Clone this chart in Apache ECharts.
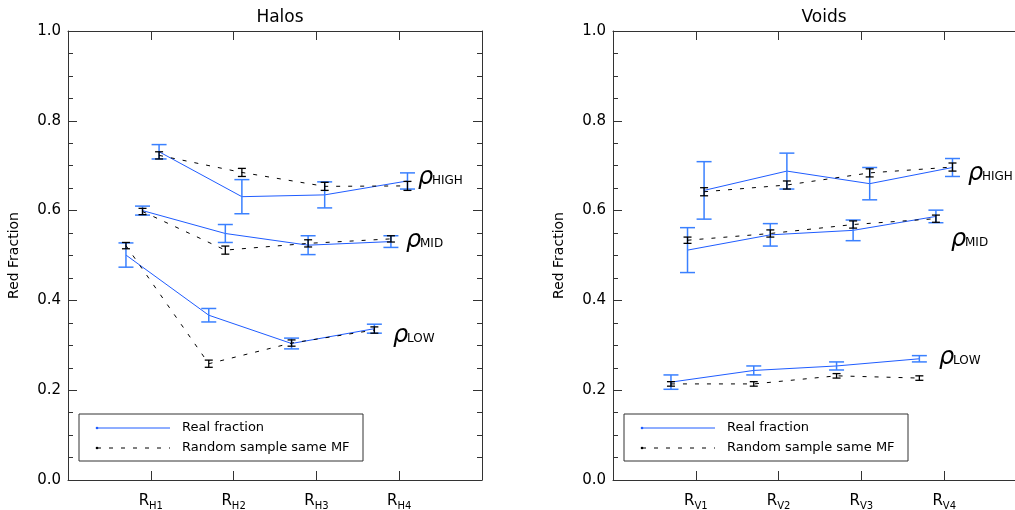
<!DOCTYPE html>
<html>
<head>
<meta charset="utf-8">
<script src="https://cdn.jsdelivr.net/npm/echarts@6/dist/echarts.min.js"></script>
<style>html,body{margin:0;padding:0;background:#fff}#c{width:1015px;height:510px}</style>
</head>
<body>
<div id="c"></div>
<script>
// ---- data ----
const haloTicks = ['H1', 'H2', 'H3', 'H4'];
const voidTicks = ['V1', 'V2', 'V3', 'V4'];

const haloRealLow = [0.501, 0.367, 0.304, 0.337];
const haloRealLowErr = [0.027, 0.015, 0.012, 0.010];
const haloRandLow = [0.522, 0.259, 0.305, 0.334];
const haloRandLowErr = [0.007, 0.008, 0.007, 0.007];
const haloRealMid = [0.600, 0.549, 0.523, 0.531];
const haloRealMidErr = [0.010, 0.020, 0.021, 0.013];
const haloRandMid = [0.598, 0.512, 0.527, 0.537];
const haloRandMidErr = [0.007, 0.009, 0.008, 0.007];
const haloRealHigh = [0.731, 0.631, 0.635, 0.666];
const haloRealHighErr = [0.016, 0.038, 0.029, 0.018];
const haloRandHigh = [0.723, 0.685, 0.654, 0.655];
const haloRandHighErr = [0.008, 0.009, 0.009, 0.010];

const voidRealLow = [0.218, 0.244, 0.254, 0.270];
const voidRealLowErr = [0.016, 0.010, 0.009, 0.007];
const voidRandLow = [0.214, 0.214, 0.232, 0.227];
const voidRandLowErr = [0.005, 0.005, 0.005, 0.005];
const voidRealMid = [0.512, 0.546, 0.556, 0.587];
const voidRealMidErr = [0.050, 0.025, 0.023, 0.014];
const voidRandMid = [0.534, 0.549, 0.569, 0.582];
const voidRandMidErr = [0.007, 0.008, 0.008, 0.008];
const voidRealHigh = [0.645, 0.688, 0.660, 0.696];
const voidRealHighErr = [0.064, 0.040, 0.036, 0.020];
const voidRandHigh = [0.642, 0.657, 0.684, 0.697];
const voidRandHighErr = [0.009, 0.009, 0.009, 0.009];

const panelTitles = ['Halos', 'Voids'];
const yAxisName = 'Red Fraction';
const legendReal = 'Real fraction';
const legendRand = 'Random sample same MF';
const densityLabels = ['LOW', 'MID', 'HIGH'];

// ---- styling / layout ----
const FONT = 'DejaVu Sans';
const BLUE_LINE = '#1f5cff';
const BLUE_ERR = '#3a80ff';
const AXIS = '#333';
const OFFSETS = [-0.3, -0.1, 0.1]; // low, mid, high horizontal shift

function pts(vals, off) { return vals.map((v, i) => [i + 1 + off, v]); }
function errs(vals, es, off) { return vals.map((v, i) => [i + 1 + off, v, es[i]]); }

function errSeries(data, xi, yi, color, halfCap, width) {
  return {
    type: 'custom', xAxisIndex: xi, yAxisIndex: yi, data: data,
    dimensions: ['x', 'v', 'e'], encode: { x: 0, y: 1 },
    silent: true, z: 4,
    renderItem: function (params, api) {
      const x = api.value(0), v = api.value(1), e = api.value(2);
      const t = api.coord([x, v + e]);
      const b = api.coord([x, v - e]);
      const st = { stroke: color, lineWidth: width };
      return {
        type: 'group', children: [
          { type: 'line', shape: { x1: t[0], y1: t[1], x2: b[0], y2: b[1] }, style: st },
          { type: 'line', shape: { x1: t[0] - halfCap, y1: t[1], x2: t[0] + halfCap, y2: t[1] }, style: st },
          { type: 'line', shape: { x1: b[0] - halfCap, y1: b[1], x2: b[0] + halfCap, y2: b[1] }, style: st }
        ]
      };
    }
  };
}

function panelSeries(xi, yi, real, realErr, rand, randErr) {
  const out = [];
  for (let k = 0; k < 3; k++) {
    const off = OFFSETS[k];
    out.push({ type: 'line', xAxisIndex: xi, yAxisIndex: yi, data: pts(real[k], off), symbol: 'none',
      lineStyle: { color: BLUE_LINE, width: 1 }, z: 3, silent: true });
    out.push(errSeries(errs(real[k], realErr[k], off), xi, yi, BLUE_ERR, 7.5, 1.5));
    out.push({ type: 'line', xAxisIndex: xi, yAxisIndex: yi, data: pts(rand[k], off), symbol: 'none',
      lineStyle: { color: '#000', width: 1, type: [4, 8] }, z: 5, silent: true });
    const es = errSeries(errs(rand[k], randErr[k], off), xi, yi, '#000', 4, 1.3);
    es.z = 6;
    out.push(es);
  }
  return out;
}

const grids = [
  { left: 68, top: 31, width: 414, height: 449, outerBoundsMode: 'none', containLabel: false },
  { left: 613, top: 31, width: 414, height: 449, outerBoundsMode: 'none', containLabel: false }
];

function xAxes(gi, ticks) {
  const base = { gridIndex: gi, type: 'value', min: 0, max: 5, interval: 1,
    splitLine: { show: false },
    axisLine: { show: true, onZero: false, lineStyle: { color: AXIS, width: 1 } },
    axisTick: { show: true, inside: true, length: 9, lineStyle: { color: AXIS } } };
  return [
    Object.assign({}, base, { position: 'bottom',
      axisLabel: { show: true, margin: 12, color: '#000',
        formatter: function (v) { const i = Math.round(v) - 1; return (i >= 0 && i < ticks.length) ? '{r|R}{s|' + ticks[i] + '}' : ''; },
        rich: { r: { fontSize: 15, fontFamily: FONT, color: '#000' },
                s: { fontSize: 10, fontFamily: FONT, color: '#000', padding: [9, 0, 0, 0] } } } }),
    Object.assign({}, base, { position: 'top', axisLabel: { show: false } })
  ];
}

function yAxes(gi) {
  const base = { gridIndex: gi, type: 'value', min: 0, max: 1, interval: 0.2,
    splitLine: { show: false },
    axisLine: { show: true, onZero: false, lineStyle: { color: AXIS, width: 1 } },
    axisTick: { show: true, inside: true, length: 9, lineStyle: { color: AXIS } },
    minorTick: { show: true, splitNumber: 4, length: 5, lineStyle: { color: AXIS } },
    minorSplitLine: { show: false } };
  return [
    Object.assign({}, base, { position: 'left',
      name: yAxisName, nameLocation: 'middle', nameGap: 47, nameRotate: 90,
      nameTextStyle: { fontSize: 14, fontFamily: FONT, color: '#000' },
      axisLabel: { show: true, margin: 7, fontSize: 15, fontFamily: FONT, color: '#000',
        formatter: function (v) { return v.toFixed(1); } } }),
    Object.assign({}, base, { position: 'right', axisLabel: { show: false } })
  ];
}

function rhoLabel(x, y, sub) {
  return { type: 'group', children: [
    { type: 'text', x: x, y: y, style: { text: 'ρ', font: 'italic 24px "DejaVu Sans"', fill: '#000',
      textAlign: 'left', textVerticalAlign: 'middle' } },
    { type: 'text', x: x + 14, y: y + 3, style: { text: sub, font: '12px "DejaVu Sans"', fill: '#000',
      textAlign: 'left', textVerticalAlign: 'middle' } }
  ] };
}

function legendBox(x0, y0) {
  const w = 284, h = 47;
  return { type: 'group', children: [
    { type: 'rect', shape: { x: x0, y: y0, width: w, height: h }, style: { fill: '#fff', stroke: AXIS, lineWidth: 1 } },
    { type: 'line', shape: { x1: x0 + 18, y1: y0 + 14, x2: x0 + 91, y2: y0 + 14 }, style: { stroke: BLUE_LINE, lineWidth: 1 } },
    { type: 'circle', shape: { cx: x0 + 18, cy: y0 + 14, r: 1.3 }, style: { fill: BLUE_LINE } },
    { type: 'text', x: x0 + 103, y: y0 + 14, style: { text: legendReal, font: '13px "DejaVu Sans"', fill: '#000', textVerticalAlign: 'middle' } },
    { type: 'line', shape: { x1: x0 + 18, y1: y0 + 34, x2: x0 + 91, y2: y0 + 34 }, style: { stroke: '#000', lineWidth: 1, lineDash: [4, 8] } },
    { type: 'circle', shape: { cx: x0 + 18, cy: y0 + 34, r: 1.3 }, style: { fill: '#000' } },
    { type: 'text', x: x0 + 103, y: y0 + 34, style: { text: legendRand, font: '13px "DejaVu Sans"', fill: '#000', textVerticalAlign: 'middle' } }
  ] };
}

const series = [].concat(
  panelSeries(0, 0,
    [haloRealLow, haloRealMid, haloRealHigh], [haloRealLowErr, haloRealMidErr, haloRealHighErr],
    [haloRandLow, haloRandMid, haloRandHigh], [haloRandLowErr, haloRandMidErr, haloRandHighErr]),
  panelSeries(2, 2,
    [voidRealLow, voidRealMid, voidRealHigh], [voidRealLowErr, voidRealMidErr, voidRealHighErr],
    [voidRandLow, voidRandMid, voidRandHigh], [voidRandLowErr, voidRandMidErr, voidRandHighErr])
);

const option = {
  backgroundColor: '#fff',
  animation: false,
  title: [
    { text: panelTitles[0], left: 275, top: 4, textAlign: 'center', textStyle: { fontSize: 17, fontWeight: 'normal', fontFamily: FONT, color: '#000' } },
    { text: panelTitles[1], left: 819, top: 4, textAlign: 'center', textStyle: { fontSize: 17, fontWeight: 'normal', fontFamily: FONT, color: '#000' } }
  ],
  grid: grids,
  xAxis: [].concat(xAxes(0, haloTicks), xAxes(1, voidTicks)),
  yAxis: [].concat(yAxes(0), yAxes(1)),
  series: series,
  graphic: [
    legendBox(79, 414),
    legendBox(624, 414),
    rhoLabel(418, 178, densityLabels[2]),
    rhoLabel(406, 241, densityLabels[1]),
    rhoLabel(393, 336, densityLabels[0]),
    rhoLabel(968, 174, densityLabels[2]),
    rhoLabel(951, 240, densityLabels[1]),
    rhoLabel(939, 358, densityLabels[0])
  ]
};

const chart = echarts.init(document.getElementById('c'), null, { renderer: 'canvas' });
chart.setOption(option);
</script>
</body>
</html>
